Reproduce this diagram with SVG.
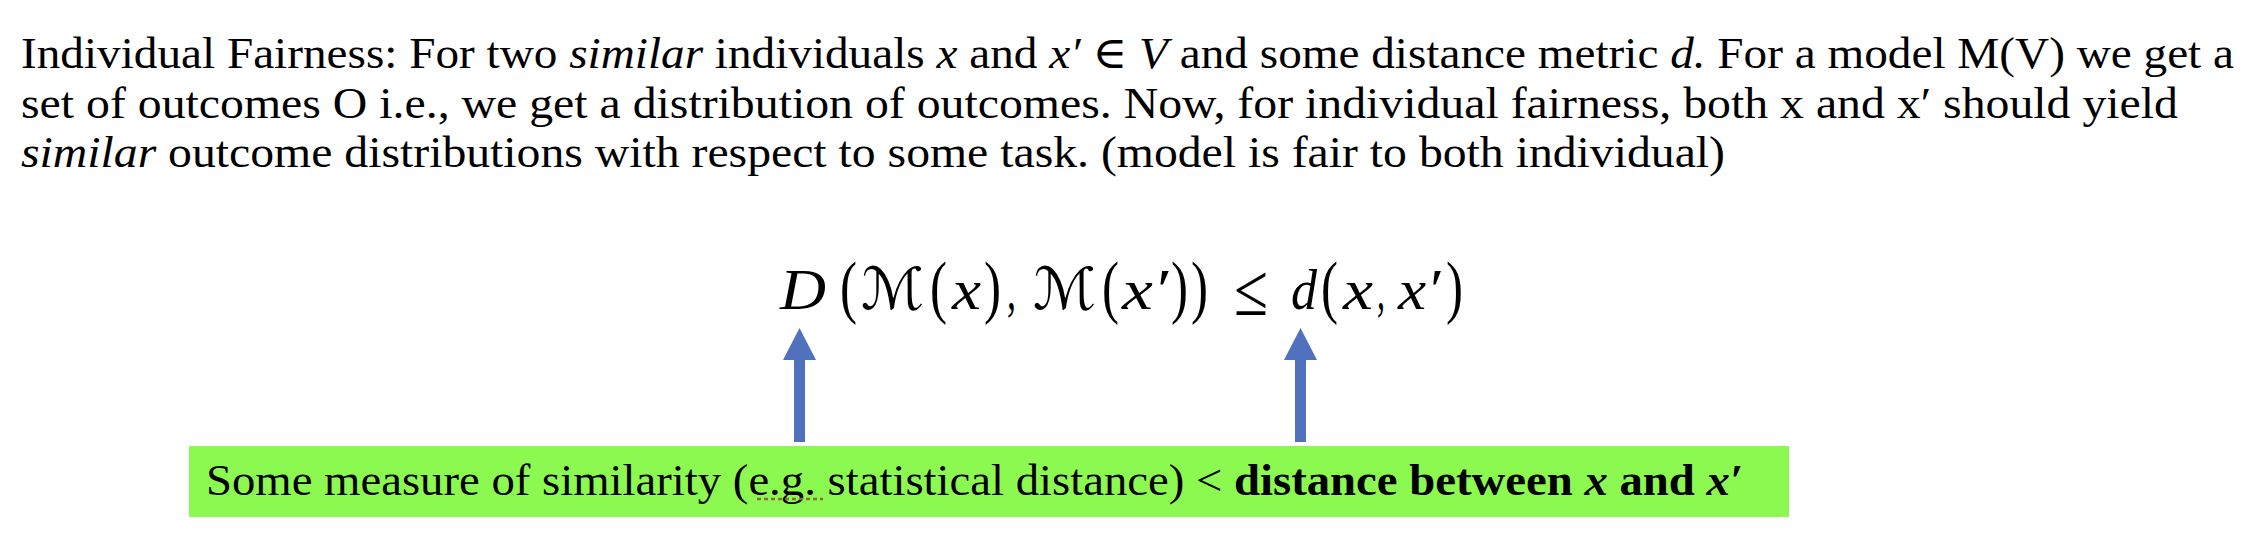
<svg xmlns="http://www.w3.org/2000/svg" width="2266" height="550" viewBox="0 0 2266 550">
<style>
.t{font-family:"Liberation Serif","DejaVu Serif",serif;font-size:45px;fill:#000}
.i{font-style:italic}
.b{font-weight:bold}
.m{font-family:"Liberation Serif","DejaVu Serif",serif;font-size:58px;fill:#000}
.p{font-family:"Liberation Serif","DejaVu Serif",serif;font-size:70px;fill:#000}
.le{font-family:"Liberation Serif","DejaVu Serif",serif;font-size:74px;fill:#000}
.cal{font-family:"DejaVu Serif","DejaVu Sans","Noto Sans",serif;font-size:58px;fill:#000}
.arrow{fill:#4f71be}
</style>
<rect width="2266" height="550" fill="#fff"/>
<g id="definition">
<text class="t" x="21" y="68" textLength="2213" lengthAdjust="spacingAndGlyphs">Individual Fairness: For two <tspan class="i">similar</tspan> individuals <tspan class="i">x</tspan> and <tspan class="i">x′</tspan> ∈ <tspan class="i">V</tspan> and some distance metric <tspan class="i">d.</tspan> For a model M(V) we get a</text>
<text class="t" x="21" y="118" textLength="2157" lengthAdjust="spacingAndGlyphs">set of outcomes O i.e., we get a distribution of outcomes. Now, for individual fairness, both x and x′ should yield</text>
<text class="t" x="21" y="167" textLength="1704" lengthAdjust="spacingAndGlyphs"><tspan class="i">similar</tspan> outcome distributions with respect to some task. (model is fair to both individual)</text>
</g>
<g id="formula">
<text class="m i" x="780" y="309" textLength="46" lengthAdjust="spacingAndGlyphs">D</text>
<text class="p" x="840" y="310" textLength="17" lengthAdjust="spacingAndGlyphs">(</text>
<text class="cal" x="861" y="309" textLength="63" lengthAdjust="spacingAndGlyphs">ℳ</text>
<text class="p" x="930" y="310" textLength="17" lengthAdjust="spacingAndGlyphs">(</text>
<text class="m i" x="952" y="309" textLength="29" lengthAdjust="spacingAndGlyphs">x</text>
<text class="p" x="984" y="310" textLength="17" lengthAdjust="spacingAndGlyphs">)</text>
<text class="m" x="1007" y="309" textLength="9" lengthAdjust="spacingAndGlyphs">,</text>
<text class="cal" x="1033" y="309" textLength="63" lengthAdjust="spacingAndGlyphs">ℳ</text>
<text class="p" x="1102" y="310" textLength="17" lengthAdjust="spacingAndGlyphs">(</text>
<text class="m i" x="1122" y="309" textLength="46" lengthAdjust="spacingAndGlyphs">x′</text>
<text class="p" x="1171" y="310" textLength="17" lengthAdjust="spacingAndGlyphs">)</text>
<text class="p" x="1191" y="310" textLength="17" lengthAdjust="spacingAndGlyphs">)</text>
<text class="le" x="1234" y="315" textLength="34" lengthAdjust="spacingAndGlyphs">≤</text>
<text class="m i" x="1291" y="309" textLength="26" lengthAdjust="spacingAndGlyphs">d</text>
<text class="p" x="1321" y="310" textLength="17" lengthAdjust="spacingAndGlyphs">(</text>
<text class="m i" x="1343" y="309" textLength="30" lengthAdjust="spacingAndGlyphs">x</text>
<text class="m" x="1377" y="309" textLength="8" lengthAdjust="spacingAndGlyphs">,</text>
<text class="m i" x="1398" y="309" textLength="42" lengthAdjust="spacingAndGlyphs">x′</text>
<text class="p" x="1446" y="310" textLength="17" lengthAdjust="spacingAndGlyphs">)</text>
</g>
<g id="connectors">
<polygon class="arrow" points="799.5,328 816,360 805,360 805,442 794,442 794,360 783,360"/>
<polygon class="arrow" points="1300.5,328 1317,360 1306,360 1306,442 1295,442 1295,360 1284,360"/>
</g>
<g id="label-box">
<rect x="189" y="446" width="1600" height="71" fill="#8cf950"/>
<text class="t" x="206" y="495" textLength="1537" lengthAdjust="spacingAndGlyphs">Some measure of similarity (e.g. statistical distance) &lt; <tspan class="b">distance between <tspan class="i">x</tspan> and <tspan class="i">x′</tspan></tspan></text>
<line x1="757" y1="499" x2="823" y2="499" stroke="#8b6b3b" stroke-width="2.5" stroke-dasharray="4,3"/>
</g>
</svg>
